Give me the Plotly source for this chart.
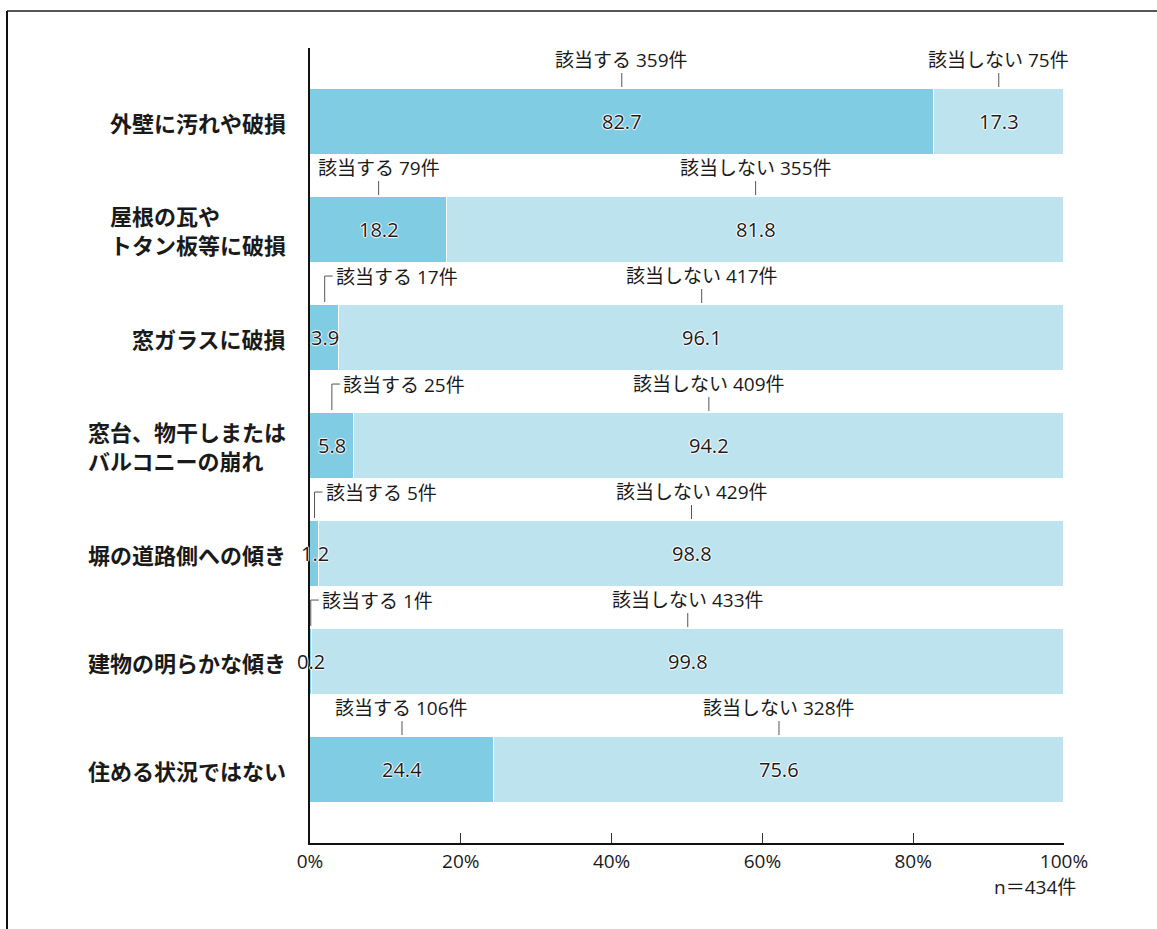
import plotly.graph_objects as go

# Survey items (top to bottom) and results, n = 434
categories = [
    "外壁に汚れや破損",
    "屋根の瓦や<br>トタン板等に破損",
    "窓ガラスに破損",
    "窓台、物干しまたは<br>バルコニーの崩れ",
    "塀の道路側への傾き",
    "建物の明らかな傾き",
    "住める状況ではない",
]
yes_pct = [82.7, 18.2, 3.9, 5.8, 1.2, 0.2, 24.4]
no_pct = [17.3, 81.8, 96.1, 94.2, 98.8, 99.8, 75.6]
yes_count = [359, 79, 17, 25, 5, 1, 106]
no_count = [75, 355, 417, 409, 429, 433, 328]
total_n = 434
x_ticks = [0, 20, 40, 60, 80, 100]
x_tick_text = ["0%", "20%", "40%", "60%", "80%", "100%"]

YES_COLOR = "#80cce3"
NO_COLOR = "#bde3ee"
TEXT = "#1a1a1a"
FONT = "Open Sans, Noto Sans CJK JP"
CJK_FONT = "Noto Sans CJK JP"

W, H = 1157, 929
ML, MR, MT, MB = 310, 93, 48, 86
PW, PH = W - ML - MR, H - MT - MB

Y_MIN, Y_MAX = -0.685, 6.676
BAR_W = 0.61
ypx = (Y_MAX - Y_MIN) / PH      # data units per pixel (vertical)
xpx = 100.0 / PW                 # data units per pixel (horizontal)

rows = list(range(len(categories)))

fig = go.Figure()
fig.add_trace(go.Bar(
    y=rows, x=yes_pct, orientation="h", width=BAR_W,
    marker=dict(color=YES_COLOR, line=dict(color="white", width=1.5)),
    name="該当する", hoverinfo="skip",
))
fig.add_trace(go.Bar(
    y=rows, x=no_pct, orientation="h", width=BAR_W,
    marker=dict(color=NO_COLOR, line=dict(color="white", width=1.5)),
    name="該当しない", hoverinfo="skip",
))

annotations = []
shapes = []
halo = "1px 0px 1px white, -1px 0px 1px white, 0px 1px 1px white, 0px -1px 1px white"
LABEL_SIZE = 19

for i in rows:
    top = i - BAR_W / 2
    yes_mid = yes_pct[i] / 2
    no_mid = yes_pct[i] + no_pct[i] / 2

    # values inside the bars
    for xm, v in ((yes_mid, yes_pct[i]), (no_mid, no_pct[i])):
        annotations.append(dict(
            x=xm, y=i, xref="x", yref="y", text=f"{v:.1f}", showarrow=False,
            xanchor="center", yanchor="middle",
            font=dict(family=FONT, size=20, color=TEXT, shadow=halo),
        ))

    # category label
    annotations.append(dict(
        x=0, y=i, xref="paper", yref="y", text=f"<b>{categories[i]}</b>",
        showarrow=False, xanchor="right", yanchor="middle", align="left",
        xshift=-22, font=dict(family=CJK_FONT, size=22, color=TEXT),
    ))

    # callout for "該当する"
    yes_text = f"該当する {yes_count[i]}件"
    label_y = top - 28 * ypx
    if yes_pct[i] < 10:
        # elbow connector for narrow segments
        shapes.append(dict(
            type="path", xref="x", yref="y",
            path=(f"M {yes_mid},{top - 3 * ypx} L {yes_mid},{label_y - 1 * ypx} "
                  f"L {yes_mid + 8 * xpx},{label_y - 1 * ypx}"),
            line=dict(color="#555555", width=1),
        ))
        annotations.append(dict(
            x=yes_mid + 9 * xpx, y=label_y, xref="x", yref="y", text=yes_text,
            showarrow=False, xanchor="left", yanchor="middle",
            font=dict(family=FONT, size=LABEL_SIZE, color=TEXT),
        ))
    else:
        shapes.append(dict(
            type="line", xref="x", yref="y",
            x0=yes_mid, x1=yes_mid, y0=top - 2 * ypx, y1=top - 16 * ypx,
            line=dict(color="#555555", width=1),
        ))
        annotations.append(dict(
            x=yes_mid, y=top - 29 * ypx, xref="x", yref="y", text=yes_text,
            showarrow=False, xanchor="center", yanchor="middle",
            font=dict(family=FONT, size=LABEL_SIZE, color=TEXT),
        ))

    # callout for "該当しない"
    shapes.append(dict(
        type="line", xref="x", yref="y",
        x0=no_mid, x1=no_mid, y0=top - 2 * ypx, y1=top - 16 * ypx,
        line=dict(color="#555555", width=1),
    ))
    annotations.append(dict(
        x=no_mid, y=top - 29 * ypx, xref="x", yref="y",
        text=f"該当しない {no_count[i]}件",
        showarrow=False, xanchor="center", yanchor="middle",
        font=dict(family=FONT, size=LABEL_SIZE, color=TEXT),
    ))

# sample size note
annotations.append(dict(
    x=1, y=-44 / PH, xref="paper", yref="paper", text=f"n＝{total_n}件",
    showarrow=False, xanchor="right", yanchor="middle", xshift=14,
    font=dict(family=FONT, size=LABEL_SIZE, color=TEXT),
))


def px_to_paper(px, py):
    return (px - ML) / PW, (H - MB - py) / PH


# outer frame: top rule and left rule
fx0, fy0 = px_to_paper(7, 11)
fx1, _ = px_to_paper(W + 5, 11)
_, fyb = px_to_paper(7, H + 5)
shapes.append(dict(type="line", xref="paper", yref="paper",
                   x0=fx0, x1=fx1, y0=fy0, y1=fy0,
                   line=dict(color="#555555", width=2)))
shapes.append(dict(type="line", xref="paper", yref="paper",
                   x0=fx0, x1=fx0, y0=fy0, y1=fyb,
                   line=dict(color="#111111", width=2)))

fig.update_layout(
    width=W, height=H,
    margin=dict(l=ML, r=MR, t=MT, b=MB, pad=0),
    barmode="stack", bargap=0,
    showlegend=False,
    plot_bgcolor="white", paper_bgcolor="white",
    font=dict(family=FONT, color=TEXT),
    annotations=annotations, shapes=shapes,
    xaxis=dict(
        range=[0, 100], tickmode="array", tickvals=x_ticks, ticktext=x_tick_text,
        showgrid=False, zeroline=False,
        showline=True, linecolor="#111111", linewidth=2,
        ticks="inside", ticklen=10, tickcolor="#333333", tickwidth=1,
        tickfont=dict(family=FONT, size=LABEL_SIZE, color=TEXT),
        fixedrange=True,
    ),
    yaxis=dict(
        range=[Y_MAX, Y_MIN], showticklabels=False, showgrid=False,
        zeroline=False, showline=True, linecolor="#111111", linewidth=2,
        ticks="", fixedrange=True,
    ),
)

fig.write_html("out.html")
